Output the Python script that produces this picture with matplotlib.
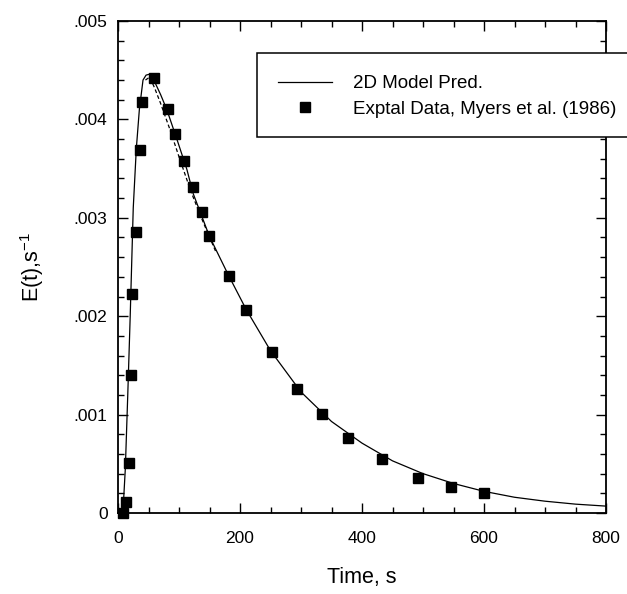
import numpy as np
import matplotlib.pyplot as plt
from matplotlib.patches import Rectangle
from matplotlib.ticker import MultipleLocator, FuncFormatter

plt.rcParams['font.family'] = ['Liberation Sans', 'DejaVu Sans']

# экспериментальные точки (Myers et al., 1986)
t_exp = [8, 13, 18, 21, 23, 29, 36, 39, 59, 82, 93, 108, 123, 138, 149,
         182, 210, 252, 293, 334, 377, 433, 492, 546, 600]
E_exp = [0.0, 0.00011, 0.00051, 0.00140, 0.00223, 0.00286, 0.00369, 0.00418,
         0.00442, 0.00411, 0.00385, 0.00358, 0.00331, 0.00306, 0.00281,
         0.00241, 0.00206, 0.00164, 0.00126, 0.00101, 0.00076, 0.00055,
         0.00036, 0.00026, 0.00020]

# расчёт по 2D модели
t_mod = [8, 12, 16, 20, 25, 30, 35, 41, 46, 52, 61, 70, 80, 97, 113, 123,
         150, 180, 210, 250, 300, 350, 400, 450, 500, 550, 600, 650, 700,
         750, 800]
E_mod = [0.0, 0.00045, 0.0012, 0.0020, 0.0031, 0.0037, 0.0041, 0.0044,
         0.00445, 0.00446, 0.00437, 0.00425, 0.00410, 0.00379, 0.00349,
         0.00325, 0.00281, 0.00243, 0.00207, 0.00165, 0.00123, 0.00093,
         0.00071, 0.00053, 0.00040, 0.00030, 0.00022, 0.00016, 0.00012,
         0.00009, 0.00007]

# пунктирная кривая у пика
t_dash = [45, 52, 60, 70, 85, 100, 120, 140, 160]
E_dash = [0.00440, 0.00443, 0.00432, 0.00416, 0.00390, 0.00362, 0.00326,
          0.00295, 0.00266]

fig = plt.figure(figsize=(6.27, 5.94), dpi=100)
ax = fig.add_axes([118/627, 1 - 513/594, 488/627, 492/594])

ln, = ax.plot(t_mod, E_mod, color='black', lw=0.9, label='2D Model Pred.')
ax.plot(t_dash, E_dash, color='black', lw=0.9, ls=(0, (3, 2)))
pts, = ax.plot(t_exp, E_exp, 's', color='black', ms=7.5, clip_on=False,
               label='Exptal Data, Myers et al. (1986)')

ax.set_xlim(0, 800)
ax.set_ylim(0, 0.005)
ax.xaxis.set_major_locator(MultipleLocator(200))
ax.xaxis.set_minor_locator(MultipleLocator(50))
ax.yaxis.set_major_locator(MultipleLocator(0.001))
ax.yaxis.set_minor_locator(MultipleLocator(0.0002))
ax.yaxis.set_major_formatter(FuncFormatter(
    lambda v, p: '0' if abs(v) < 1e-9 else ('%.3f' % v).lstrip('0')))
ax.tick_params(which='both', direction='in', top=True, right=True,
               labelsize=12.5, width=1)
ax.tick_params(which='major', length=7)
ax.tick_params(which='minor', length=4)
ax.tick_params(axis='x', which='major', pad=13)
ax.tick_params(axis='y', which='major', pad=7.5)
for s in ax.spines.values():
    s.set_linewidth(1.3)

ax.set_xlabel('Time, s', fontsize=15.5, labelpad=15)
ax.set_ylabel(r'E(t),s$^{\mathregular{-1}}$', fontsize=15.5, labelpad=20)

# рамка легенды выходит за правый край и закрывает ось
fig.patches.append(Rectangle((257/627, 1 - 137/594), 400/627, 84/594,
                             transform=fig.transFigure, fc='white',
                             ec='black', lw=1.1, zorder=3))
fig.legend(handles=[ln, pts], loc='upper left',
           bbox_to_anchor=(278/627, 1 - 75/594), frameon=False,
           fontsize=13.5, handlelength=2.9, handletextpad=1.1,
           labelspacing=0.45, borderpad=0, borderaxespad=0)

fig.savefig('out.png', dpi=100)
